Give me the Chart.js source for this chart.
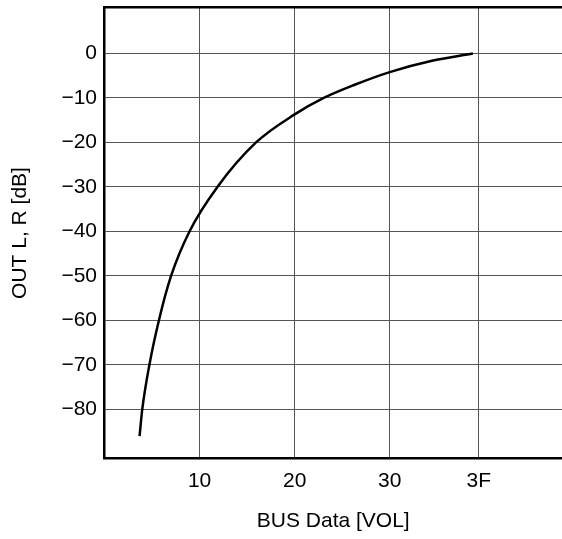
<!DOCTYPE html>
<html>
<head>
<meta charset="utf-8">
<script src="https://cdn.jsdelivr.net/npm/chart.js@4.4.1/dist/chart.umd.min.js"></script>
<style>
  html, body { margin: 0; padding: 0; background: #fff; overflow: hidden; }
  #wrap { position: relative; width: 562px; height: 539px; }
</style>
</head>
<body>
<div id="wrap"><canvas id="vol-curve"></canvas></div>
<script>
// volume curve (x = BUS data step, y = dB)
var busData  = [5.9, 6.35, 7.55, 9.15, 11.2, 14.3, 19, 25.5, 32, 36.9, 42, 48, 55.3, 62];
var outLevel = [-86, -80, -70, -60, -50, -40, -30, -20, -13.7, -10, -7.1, -4.2, -1.6, 0];

var xTickValues = [16, 32, 48, 63];
var xTickLabels = ['10', '20', '30', '3F'];
var yTickValues = [-80, -70, -60, -50, -40, -30, -20, -10, 0];

var points = busData.map(function (v, i) { return {x: v, y: outLevel[i]}; });

var font = {family: '"Liberation Sans", Arial, sans-serif', size: 21};

var ctx = document.getElementById('vol-curve');
var chart = new Chart(ctx, {
  type: 'line',
  data: {
    datasets: [{
      data: points,
      borderColor: '#000',
      borderWidth: 2.5,
      pointRadius: 0,
      cubicInterpolationMode: 'monotone',
      fill: false
    }]
  },
  options: {
    responsive: true,
    maintainAspectRatio: false,
    animation: false,
    layout: {padding: 0},
    plugins: {legend: {display: false}, tooltip: {enabled: false}},
    scales: {
      x: {
        type: 'linear',
        min: 0,
        max: 77,
        afterBuildTicks: function (axis) {
          axis.ticks = xTickValues.map(function (v) { return {value: v}; });
        },
        ticks: {
          color: '#000',
          font: font,
          padding: 10.6,
          maxRotation: 0,
          callback: function (v) { return xTickLabels[xTickValues.indexOf(v)]; }
        },
        grid: {color: '#555', lineWidth: 1, drawTicks: false},
        border: {color: '#000', width: 2.5},
        title: {display: true, text: 'BUS Data [VOL]', color: '#000', font: font,
                padding: {top: 4, bottom: 5}}
      },
      xTop: {
        type: 'linear',
        position: 'top',
        min: 0,
        max: 77,
        ticks: {display: false},
        grid: {display: false, drawTicks: false},
        border: {color: '#000', width: 2.5}
      },
      y: {
        type: 'linear',
        min: -91,
        max: 10.3,
        afterBuildTicks: function (axis) {
          axis.ticks = yTickValues.map(function (v) { return {value: v}; });
        },
        ticks: {
          color: '#000',
          font: {family: font.family, size: 21, lineHeight: 0.01},
          padding: 7.5,
          callback: function (v) { return v < 0 ? '\u2212' + Math.abs(v) : String(v); }
        },
        grid: {color: '#555', lineWidth: 1, drawTicks: false},
        border: {color: '#000', width: 2.5},
        title: {display: true, text: 'OUT L, R [dB]', color: '#000', font: font,
                padding: {top: 7.4, bottom: 21.3}}
      }
    }
  }
});
</script>
</body>
</html>
